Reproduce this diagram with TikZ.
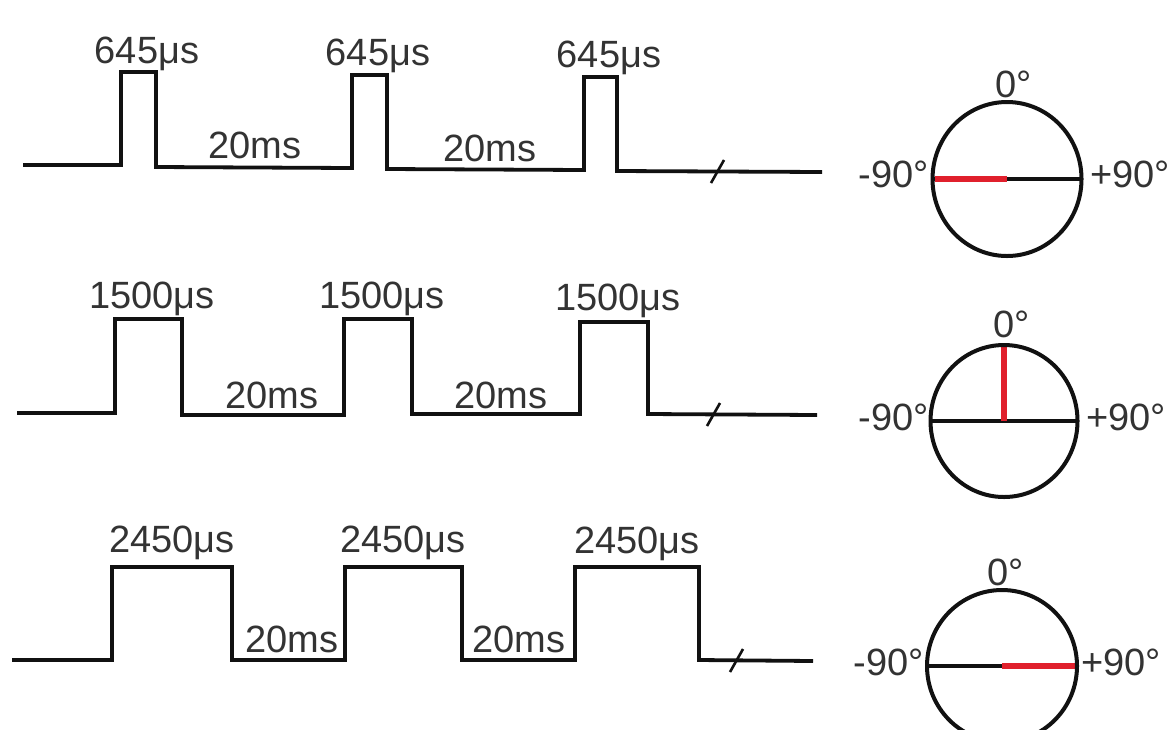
\documentclass[tikz,border=0pt]{standalone}
\usepackage{fontspec}
\setmainfont{Liberation Sans}
\definecolor{txt}{HTML}{333333}
\definecolor{wire}{HTML}{111111}
\definecolor{pointer}{HTML}{E0202C}
\tikzset{
  wave/.style={draw=wire, line width=1.9pt, line join=miter},
  brk/.style={draw=wire, line width=1.3pt},
  dial/.style={draw=wire, line width=2pt},
  axisline/.style={draw=wire, line width=1.6pt},
  needle/.style={draw=pointer, line width=2.6pt},
  lbl/.style={text=txt, inner sep=0pt, font=\fontsize{19}{22}\selectfont},
}
\begin{document}
\begin{tikzpicture}[x=0.5pt, y=-0.5pt]
\useasboundingbox (0,0) rectangle (1171,729);
\clip (0,0) rectangle (1171,729);
\fill[white] (0,0) rectangle (1171,729);

% ---------- row 1 ----------
\draw[wave] (23,165) -- (121,165) -- (121,72) -- (156,72) -- (156,167) -- (352,168)
  -- (352,75) -- (387,75) -- (387,169) -- (584,170) -- (584,77) -- (617,77)
  -- (617,171) -- (822,172);
\draw[brk] (711,183) -- (724,160);
\node[lbl, anchor=base] (p11) at (147,63) {645μs};
\node[lbl, anchor=base] (p12) at (378,65) {645μs};
\node[lbl, anchor=base] (p13) at (609,67) {645μs};
\node[lbl, anchor=base] (g11) at (255,158) {20ms};
\node[lbl, anchor=base] (g12) at (490,161) {20ms};

% ---------- row 2 ----------
\draw[wave] (17,413) -- (115,413) -- (115,319) -- (182,319) -- (182,415) -- (344,415)
  -- (344,319) -- (412,319) -- (412,414) -- (580,414) -- (580,322) -- (648,322)
  -- (648,414) -- (817,415);
\draw[brk] (707,426) -- (720,403);
\node[lbl, anchor=base] (p21) at (152,308) {1500μs};
\node[lbl, anchor=base] (p22) at (382,308) {1500μs};
\node[lbl, anchor=base] (p23) at (618,310) {1500μs};
\node[lbl, anchor=base] (g21) at (272,408) {20ms};
\node[lbl, anchor=base] (g22) at (501,408) {20ms};

% ---------- row 3 ----------
\draw[wave] (12,660) -- (112,660) -- (112,567) -- (232,567) -- (232,660) -- (345,660)
  -- (345,567) -- (462,567) -- (462,660) -- (575,660) -- (575,567) -- (699,567)
  -- (699,660) -- (813,661);
\draw[brk] (730,672) -- (743,649);
\node[lbl, anchor=base] (p31) at (172,552) {2450μs};
\node[lbl, anchor=base] (p32) at (403,552) {2450μs};
\node[lbl, anchor=base] (p33) at (637,553) {2450μs};
\node[lbl, anchor=base] (g31) at (292,652) {20ms};
\node[lbl, anchor=base] (g32) at (519,652) {20ms};

% ---------- dial 1 : -90 ----------
\coordinate (c1) at (1007,179);
\draw[axisline] (933,179) -- (1081,179);
\draw[needle] (935,179) -- (c1);
\draw[dial] (c1) ellipse [x radius=74.5, y radius=77];
\node[lbl, anchor=base] (z1) at (1014,97) {0°};
\node[lbl, anchor=base east] (m1) at (929,187) {-90°};
\node[lbl, anchor=base west] (q1) at (1090,187) {+90°};

% ---------- dial 2 : 0 ----------
\coordinate (c2) at (1004,421);
\draw[axisline] (931,421) -- (1077,421);
\draw[needle] (c2) -- (1004,347);
\draw[dial] (c2) ellipse [x radius=73.5, y radius=76];
\node[lbl, anchor=base] (z2) at (1012,337) {0°};
\node[lbl, anchor=base east] (m2) at (929,430) {-90°};
\node[lbl, anchor=base west] (q2) at (1086,430) {+90°};

% ---------- dial 3 : +90 ----------
\coordinate (c3) at (1002,666);
\draw[axisline] (927,666) -- (1077,666);
\draw[needle] (c3) -- (1075,666);
\draw[dial] (c3) ellipse [x radius=75, y radius=76];
\node[lbl, anchor=base] (z3) at (1006,585) {0°};
\node[lbl, anchor=base east] (m3) at (924,675) {-90°};
\node[lbl, anchor=base west] (q3) at (1081,675) {+90°};
\end{tikzpicture}
\end{document}
